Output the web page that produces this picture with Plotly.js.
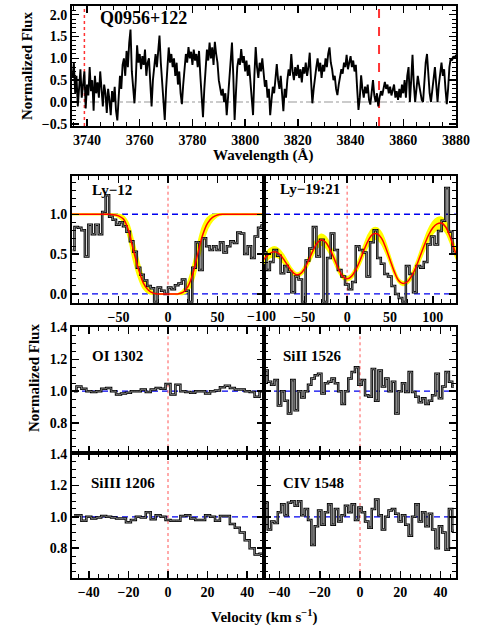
<!DOCTYPE html>
<html>
<head>
<meta charset="utf-8">
<script src="https://cdn.plot.ly/plotly-3.0.1.min.js"></script>
<style>
  body { margin: 0; background: #fff; }
  #chart { width: 480px; height: 630px; }
</style>
</head>
<body>
<div id="chart"></div>
<script>
// spectrum, flux on a 0.5 A grid from 3734.5 A
var waveStart = 3734.5, waveStep = 0.5;
var specFlux = [
  0.55, 0.9, 0.2, 0.6, -0.1, 0.45, 0.75, 0.1, 0.35, 0.7, -0.15, 0.4, 0.15, 0.8, 0.25, 0.5, -0.2, 0.6, 0.2, 0.45,
  0.1, 0.7, 0.3, -0.1, 0.4, 0.2, -0.25, 0.3, 0.05, -0.3, 0.25, 0.0, 0.35, -0.2, -0.42, 0.2, 0.6, 0.3, 0.85, 1.0,
  0.6, 1.17, 0.8, 1.35, 1.66, 0.7, 0.3, -0.03, 0.5, 1.3, 0.9, 1.1, 0.75, 1.05, 0.85, 1.2, 0.6, 0.9, 1.0, 0.3,
  -0.1, 0.5, 0.9, 1.1, 0.8, 1.25, 1.52, 0.9, 0.4, -0.1, -0.41, 0.3, 0.7, 1.25, 0.9, 1.1, 0.8, 1.0, 0.6, 0.9,
  0.4, 0.7, 0.2, -0.05, 0.4, 0.85, 1.1, 0.9, 1.26, 1.0, 1.15, 0.85, 1.2, 0.95, 1.1, 0.8, 1.17, 0.6, 0.1, -0.35,
  0.3, 0.9, 1.2, 0.95, 1.36, 1.0, 1.25, 0.85, 1.38, 1.1, 0.9, 0.5, 0.3, 0.15, 0.3, 0.0, 0.2, -0.3, 0.1, 0.5,
  0.9, 1.36, 0.6, -0.41, 0.2, 0.8, 1.0, 0.85, 1.21, 0.9, 1.05, 0.7, 0.95, 0.6, 0.85, 0.5, 0.2, -0.3, 0.6, 1.26,
  0.8, 0.55, 0.9, 0.7, 1.0, 0.6, 0.35, 0.5, 0.1, 0.3, -0.3, 0.05, 0.35, 0.2, 0.6, 0.87, 0.5, 0.3, 0.6, 0.1,
  -0.21, 0.3, 0.1, 0.5, 0.75, 0.6, 1.1, 0.7, 0.5, 0.8, 0.6, 0.85, 0.55, 0.75, 0.45, 0.8, 0.65, 0.9, 0.6, 0.8,
  1.13, 0.5, -0.03, 0.3, 0.6, 0.8, 1.0, 0.7, 0.9, 0.55, 0.85, 0.7, 1.0, 0.8, 1.1, 1.25, 0.9, 0.75, 0.5, 0.6,
  0.3, 0.16, 0.4, 0.6, 0.75, 0.65, 0.9, 0.8, 1.08, 0.75, 0.9, 1.05, 0.8, 0.95, 0.7, 0.85, 0.3, -0.18, 0.1, 0.61,
  0.3, 0.1, 0.35, 0.2, 0.4, 0.05, -0.06, 0.2, 0.5, 0.15, 0.0, 0.2, -0.1, 0.1, 0.25, 0.15, 0.35, 0.46, 0.3, 0.4,
  0.2, 0.35, 0.15, 0.3, 0.4, 0.1, 0.25, 0.05, 0.3, 0.1, 0.4, 0.2, 0.5, 0.1, 0.6, 0.8, 0.0, 0.5, 1.08, 0.4,
  0.0, 0.3, 0.6, 0.4, 0.2, 0.05, 0.0, 0.5, 0.9, 1.1, 0.6, 0.2, 0.0, 0.3, 0.6, 0.8, 0.4, 0.0, 0.4, 0.7,
  0.9, 0.6, 0.75, 0.3, -0.05, 0.3, 0.8, 1.0, 0.95, 1.05, 1.0, 1.08
];
var markWave = [3739, 3850.8];
var quasar = "Q0956+122";

// Lyman panels
var ly12Start = -96.25, ly12Step = 3.5;
var ly12Flux = [
  0.55, 0.84, 0.83, 0.8, 0.47, 0.87, 0.75, 0.87, 0.75, 1.03,
  1.24, 0.97, 0.93, 0.87, 0.9, 0.85, 0.78, 0.66, 0.53, 0.33,
  0.24, 0.17, 0.1, 0.07, -0.1, 0.08, 0.04, 0.0, 0.08, 0.06,
  0.11, 0.13, 0.18, 0.04, -0.1, 0.33, 0.65, 0.3, 0.7, 0.6,
  0.55, 0.6, 0.55, 0.65, 0.52, 0.6, 0.66, 0.64, 0.77, 0.76,
  0.5, 0.6, 0.45, 0.72, 0.83, 0.86
];
var ly12ModelStart = -100, modelStep = 5;
var ly12Model = [
  1, 1, 1, 1, 1, 1, 1, 1, 1,
  0.995, 0.98, 0.94, 0.8, 0.55, 0.32, 0.14, 0.05, 0.01, 0.0, 0.0, 0.0,
  0.0, 0.0, 0.02, 0.09, 0.25, 0.5, 0.74, 0.89, 0.96, 0.99, 1.0,
  1, 1, 1, 1, 1, 1, 1, 1, 1
];
var ly12Err = [
  0, 0, 0, 0, 0, 0, 0, 0, 0,
  0.005, 0.015, 0.035, 0.08, 0.11, 0.1, 0.065, 0.035, 0.01, 0, 0, 0,
  0, 0, 0.02, 0.05, 0.09, 0.11, 0.1, 0.065, 0.035, 0.012, 0.003,
  0, 0, 0, 0, 0, 0, 0, 0, 0
];

var ly19Start = -96.4, ly19Step = 4.175;
var ly19Flux = [
  0.52, 0.30, 0.40, 0.55, 0.48, 0.26, 0.35, 0.28, 0.02, 0.22,
  0.18, -0.10, 0.42, 0.57, 0.84, 0.47, 0.68, -0.10, 0.45, 0.76,
  0.55, 0.30, 0.22, 0.12, 0.06, 0.15, 0.60, 0.55, 0.52, 0.22,
  0.65, 0.80, 0.45, 0.38, 0.25, 0.22, 0.10, 0.00, -0.05, -0.10,
  0.35, 0.25, 0.02, 0.35, 0.33, 0.40, 0.62, 0.72, 0.62, 0.79,
  0.92, 1.33, 0.78, 0.52
];
var ly19ModelStart = -100;
var ly19Model = [
  0.40, 0.46, 0.51, 0.53, 0.51, 0.45, 0.37, 0.29, 0.245, 0.25,
  0.31, 0.42, 0.54, 0.64, 0.68, 0.65, 0.56, 0.44, 0.31, 0.22,
  0.19, 0.22, 0.30, 0.42, 0.56, 0.68, 0.75, 0.755, 0.70, 0.58,
  0.43, 0.28, 0.17, 0.13, 0.15, 0.22, 0.33, 0.47, 0.61, 0.74,
  0.83, 0.88, 0.89, 0.84, 0.72, 0.56, 0.42
];
var ly19Err = [
  0.04, 0.05, 0.055, 0.06, 0.055, 0.05, 0.04, 0.03, 0.02, 0.02,
  0.03, 0.04, 0.05, 0.06, 0.065, 0.065, 0.055, 0.045, 0.035, 0.025,
  0.02, 0.025, 0.035, 0.045, 0.055, 0.065, 0.07, 0.07, 0.065, 0.055,
  0.04, 0.03, 0.02, 0.02, 0.02, 0.03, 0.04, 0.05, 0.06, 0.065,
  0.07, 0.07, 0.07, 0.065, 0.06, 0.05, 0.04
];

// metal lines
var leftStart = -47.5, leftStep = 2.5;
var oiFlux = [
  1.0, 1.03, 1.015, 1.0, 0.995, 1.0, 1.015, 1.02, 1.0, 0.98,
  0.985, 0.99, 1.0, 1.0, 1.01, 0.995, 1.01, 1.02, 1.015, 1.045,
  0.98, 1.04, 1.0, 0.995, 0.99, 1.0, 1.0, 0.985, 1.0, 1.005,
  1.025, 1.035, 1.02, 1.01, 1.01, 1.0, 0.995, 0.965, 1.0
];
var siiiiFlux = [
  1.01, 1.01, 0.975, 1.0, 0.99, 0.995, 1.005, 1.0, 0.995, 0.99,
  0.99, 0.965, 0.98, 1.0, 0.995, 1.03, 0.985, 1.01, 1.0, 0.98,
  0.975, 0.975, 1.005, 1.01, 0.99, 0.98, 0.98, 1.01, 1.0, 0.975,
  1.005, 1.005, 0.955, 0.93, 0.9, 0.85, 0.8, 0.76, 0.765
];
var rightStart = -46.67, rightStep = 5 / 3;
var siiFlux = [
  1.13, 1.06, 1.04, 1.07, 0.91, 1.0, 0.94, 0.86, 1.07, 0.88,
  1.0, 0.96, 1.0, 1.04, 1.08, 1.1, 1.11, 0.985, 1.05, 1.06,
  1.08, 1.05, 1.0, 0.92, 1.0, 1.08, 1.12, 1.15, 1.04, 1.07,
  0.975, 0.965, 1.14, 0.94, 1.13, 1.03, 1.08, 1.0, 1.06, 0.86,
  1.0, 1.05, 0.995, 1.12, 0.995, 0.965, 0.93, 0.955, 0.92, 0.94,
  0.975, 1.11, 0.955, 1.03, 1.12, 1.06, 1.03
];
var civFlux = [
  1.09, 0.92, 0.97, 0.96, 1.03, 1.08, 1.01, 1.09, 1.1, 1.07,
  1.1, 1.01, 1.05, 0.98, 0.82, 0.94, 1.04, 0.95, 1.03, 1.08,
  0.95, 1.05, 0.97, 1.01, 1.07, 1.03, 1.08, 0.98, 1.06, 1.03,
  0.97, 0.93, 1.05, 1.11, 1.01, 0.92, 1.0, 1.04, 1.05, 1.02,
  0.97, 1.01, 0.95, 0.88, 1.0, 1.08, 0.97, 1.03, 0.94, 1.02,
  0.92, 0.8, 0.94, 0.9, 0.79, 1.05, 0.91
];

var panelLabels = ["Ly−12", "Ly−19:21", "OI 1302", "SiII 1526", "SiIII 1206", "CIV 1548"];

function grid(start, step, n) {
  return Array.from({length: n}, (_, i) => start + i * step);
}

var FONT = 'Liberation Serif';

// histogram drawn as a dark outline with a grey core, like the original plot
function hist(xs, ys, xa, ya) {
  return [
    {x: xs, y: ys, xaxis: xa, yaxis: ya, mode: 'lines', line: {shape: 'hvh', color: 'black', width: 2.5}},
    {x: xs, y: ys, xaxis: xa, yaxis: ya, mode: 'lines', line: {shape: 'hvh', color: '#9a9a9a', width: 0.8}}
  ];
}

function fit(xs, model, err, xa, ya) {
  var lo = model.map((m, i) => m - err[i]);
  var hi = model.map((m, i) => m + err[i]);
  return [
    {x: xs, y: lo, xaxis: xa, yaxis: ya, mode: 'lines', line: {shape: 'spline', color: '#ffff00', width: 2}},
    {x: xs, y: hi, xaxis: xa, yaxis: ya, mode: 'lines', fill: 'tonexty', fillcolor: '#ffff00',
     line: {shape: 'spline', color: '#ffff00', width: 2}}
  ];
}

function model(xs, ys, xa, ya) {
  return {x: xs, y: ys, xaxis: xa, yaxis: ya, mode: 'lines', line: {shape: 'spline', color: '#ff0000', width: 1.5}};
}

var wave = grid(waveStart, waveStep, specFlux.length);
var ly12V = grid(ly12Start, ly12Step, ly12Flux.length);
var ly12MV = grid(ly12ModelStart, modelStep, ly12Model.length);
var ly19V = grid(ly19Start, ly19Step, ly19Flux.length);
var ly19MV = grid(ly19ModelStart, modelStep, ly19Model.length);
var leftV = grid(leftStart, leftStep, oiFlux.length);
var rightV = grid(rightStart, rightStep, siiFlux.length);

var data = [
  {x: wave, y: specFlux, mode: 'lines', line: {color: 'black', width: 1.9}}
];
data = data.concat(
  fit(ly12MV, ly12Model, ly12Err, 'x2', 'y2'),
  hist(ly12V, ly12Flux, 'x2', 'y2'),
  [model(ly12MV, ly12Model, 'x2', 'y2')],
  fit(ly19MV, ly19Model, ly19Err, 'x3', 'y3'),
  hist(ly19V, ly19Flux, 'x3', 'y3'),
  [model(ly19MV, ly19Model, 'x3', 'y3')],
  hist(leftV, oiFlux, 'x4', 'y4'),
  hist(rightV, siiFlux, 'x5', 'y5'),
  hist(leftV, siiiiFlux, 'x6', 'y6'),
  hist(rightV, civFlux, 'x7', 'y7')
);

function axis(domain, range, dtick, minor, anchor, labels, fmt) {
  return {
    domain: domain, range: range, anchor: anchor, dtick: dtick, tick0: 0,
    showline: true, linecolor: 'black', linewidth: 2, mirror: 'allticks',
    ticks: 'inside', ticklen: 7, tickwidth: 1.5, tickcolor: 'black',
    showgrid: false, zeroline: false, showticklabels: labels, tickformat: fmt || '',
    tickfont: {family: FONT, size: 14, color: 'black', weight: 'bold'},
    minor: {dtick: minor, tick0: 0, ticks: 'inside', ticklen: 4, tickwidth: 1, tickcolor: 'black', showgrid: false}
  };
}

var L = [0.15, 0.55], R = [0.55, 0.95];
var row2 = [0.5195, 0.7206], row3 = [0.2805, 0.4814], row4 = [0.0825, 0.2805];
var metRange = [0.61, 1.405];

var layout = {
  width: 480, height: 630,
  margin: {l: 0, r: 0, t: 0, b: 0},
  paper_bgcolor: 'white', plot_bgcolor: 'white',
  showlegend: false,
  font: {family: FONT, color: 'black'},
  xaxis: axis([0.15, 0.95], [3734.3, 3880], 20, 5, 'y', true),
  yaxis: axis([0.8, 0.9905], [-0.55, 2.2], 0.5, 0.1, 'x', true, '.1f'),
  xaxis2: axis(L, [-97, 97], 50, 10, 'y2', true),
  yaxis2: axis(row2, [-0.11, 1.48], 0.5, 0.1, 'x2', true, '.1f'),
  xaxis3: axis(R, [-97, 127], 50, 10, 'y3', true),
  yaxis3: axis(row2, [-0.11, 1.48], 0.5, 0.1, 'x3', false),
  xaxis4: axis(L, [-48.5, 48.5], 20, 5, 'y4', false),
  yaxis4: axis(row3, metRange, 0.2, 0.05, 'x4', true, '.1f'),
  xaxis5: axis(R, [-47.7, 47.7], 20, 5, 'y5', false),
  yaxis5: axis(row3, metRange, 0.2, 0.05, 'x5', false),
  xaxis6: axis(L, [-48.5, 48.5], 20, 5, 'y6', true),
  yaxis6: axis(row4, metRange, 0.2, 0.05, 'x6', true, '.1f'),
  xaxis7: axis(R, [-47.7, 47.7], 20, 5, 'y7', true),
  yaxis7: axis(row4, metRange, 0.2, 0.05, 'x7', false),
  shapes: [],
  annotations: []
};

// reference lines
layout.shapes.push({type: 'line', layer: 'below', xref: 'x domain', x0: 0, x1: 1, yref: 'y', y0: 0, y1: 0,
  line: {color: '#bbbbbb', width: 1.5, dash: 'dashdot'}});
layout.shapes.push({type: 'line', layer: 'below', xref: 'x', x0: markWave[0], x1: markWave[0], yref: 'y domain', y0: 0, y1: 1,
  line: {color: '#ff3333', width: 1.5, dash: 'dot'}});
layout.shapes.push({type: 'line', layer: 'below', xref: 'x', x0: markWave[1], x1: markWave[1], yref: 'y domain', y0: 0, y1: 1,
  line: {color: '#ff3333', width: 2, dash: 'dash'}});

[2, 3, 4, 5, 6, 7].forEach(function (k) {
  var levels = k <= 3 ? [0, 1] : [1];
  levels.forEach(function (lv) {
    layout.shapes.push({type: 'line', layer: 'below', xref: 'x' + k + ' domain', x0: 0, x1: 1,
      yref: 'y' + k, y0: lv, y1: lv, line: {color: '#0000ee', width: 1.3, dash: '6px,4px'}});
  });
  layout.shapes.push({type: 'line', layer: 'below', xref: 'x' + k, x0: 0, x1: 0,
    yref: 'y' + k + ' domain', y0: 0, y1: 1, line: {color: '#ff5555', width: 1, dash: 'dot'}});
});

function note(text, px, py, size, angle) {
  layout.annotations.push({text: text, xref: 'paper', yref: 'paper', x: px / 480, y: 1 - py / 630,
    xanchor: 'center', yanchor: 'middle', showarrow: false, textangle: angle || 0,
    font: {family: FONT, size: size, color: 'black', weight: 'bold'}});
}

note(quasar, 143, 18, 18);
var labelPos = [[112, 190], [310, 189], [117, 356], [312, 356], [123, 483], [313, 483]];
panelLabels.forEach(function (t, i) { note(t, labelPos[i][0], labelPos[i][1], 15); });
note('Normalized Flux', 27, 66, 15, -90);
note('Normalized Flux', 34, 378, 15, -90);
note('Wavelength (Å)', 263, 155, 15);
note('Velocity (km s<sup>−1</sup>)', 264, 616, 15);
note('−100', 261, 316, 14);

Plotly.newPlot('chart', data, layout, {staticPlot: true});
</script>
</body>
</html>
